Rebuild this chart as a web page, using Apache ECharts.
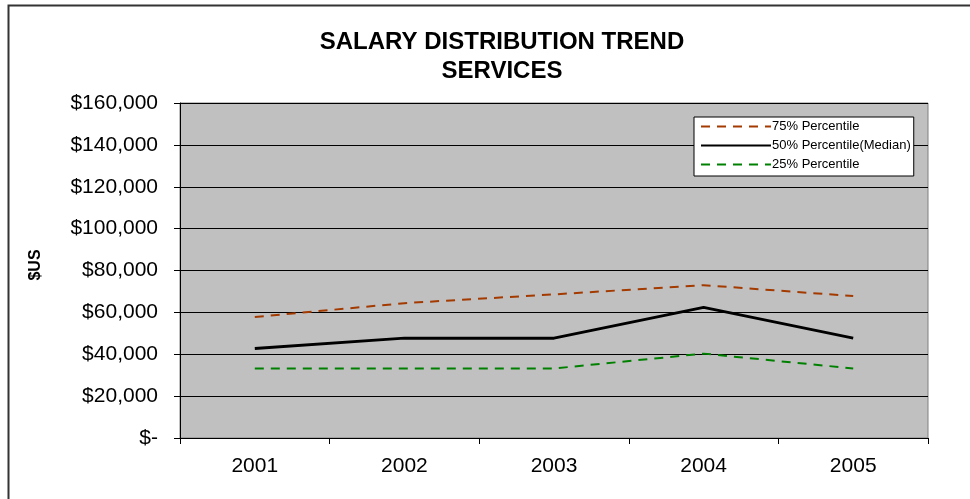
<!DOCTYPE html>
<html>
<head>
<meta charset="utf-8">
<script src="https://cdn.jsdelivr.net/npm/echarts@6/dist/echarts.min.js"></script>
<style>
  html, body { margin: 0; padding: 0; background: #ffffff; }
  #chart { width: 970px; height: 499px; }
</style>
</head>
<body>
<div id="chart"></div>
<script>
// Salary percentiles for the services sector, by year
const years = ['2001', '2002', '2003', '2004', '2005'];
const p75 = [57800, 64400, 68600, 73000, 67800];
const p50 = [42800, 47700, 47700, 62400, 47700];
const p25 = [33200, 33200, 33200, 40300, 33200];
const seriesNames = ['75% Percentile', '50% Percentile(Median)', '25% Percentile'];
const yTicks = { min: 0, max: 160000, step: 20000 };

const font = '"Liberation Sans", Arial, sans-serif';

function money(v) {
  if (v === 0) return '$-';
  return '$' + v.toString().replace(/\B(?=(\d{3})+(?!\d))/g, ',');
}

const chart = echarts.init(document.getElementById('chart'), null, { renderer: 'canvas' });

chart.setOption({
  animation: false,
  backgroundColor: '#ffffff',
  textStyle: { fontFamily: font },
  title: {
    text: 'SALARY DISTRIBUTION TREND\nSERVICES',
    left: 497,
    top: 23,
    textAlign: 'center',
    textStyle: {
      fontFamily: font,
      fontSize: 24,
      fontWeight: 'bold',
      color: '#000000',
      lineHeight: 29
    }
  },
  graphic: [
    {
      type: 'rect',
      silent: true,
      shape: { x: 8.5, y: 5.5, width: 975, height: 500 },
      style: { fill: 'none', stroke: '#333333', lineWidth: 2 },
      z: -1
    },
    {
      // vertical axis caption, reading bottom to top
      type: 'text',
      silent: true,
      x: 36,
      y: 265,
      rotation: Math.PI / 2,
      style: {
        text: '$US',
        font: 'bold 16px ' + font,
        fill: '#000000',
        align: 'center',
        verticalAlign: 'middle'
      }
    }
  ],
  legend: {
    orient: 'vertical',
    left: 694,
    top: 117,
    backgroundColor: '#ffffff',
    borderColor: '#000000',
    borderWidth: 1,
    padding: [3, 3, 5, 6],
    itemWidth: 70,
    itemHeight: 13,
    itemGap: 6,
    itemStyle: { opacity: 0 },
    textStyle: { fontFamily: font, fontSize: 13, color: '#000000', padding: [0, 0, 0, -4] },
    data: seriesNames
  },
  grid: {
    left: 180,
    right: 42,
    top: 103,
    bottom: 61,
    show: true,
    backgroundColor: '#c0c0c0',
    borderColor: '#808080',
    borderWidth: 1
  },
  xAxis: {
    type: 'category',
    data: years,
    boundaryGap: true,
    axisLine: { show: true, lineStyle: { color: '#000000', width: 1 } },
    axisTick: { show: true, length: 6, lineStyle: { color: '#000000' } },
    axisLabel: { fontFamily: font, fontSize: 21, color: '#000000', margin: 18 },
    splitLine: { show: false }
  },
  yAxis: {
    type: 'value',
    min: yTicks.min,
    max: yTicks.max,
    interval: yTicks.step,
    axisLine: { show: true, lineStyle: { color: '#000000', width: 1 } },
    axisTick: { show: true, length: 6, lineStyle: { color: '#000000' } },
    axisLabel: {
      fontFamily: font,
      fontSize: 21,
      color: '#000000',
      margin: 22,
      formatter: money
    },
    splitLine: { show: true, lineStyle: { color: '#000000', width: 1 } }
  },
  series: [
    {
      name: seriesNames[0],
      type: 'line',
      data: p75,
      symbol: 'none',
      color: '#a33a00',
      lineStyle: { color: '#a33a00', width: 2, type: [9, 7] }
    },
    {
      name: seriesNames[1],
      type: 'line',
      data: p50,
      symbol: 'none',
      color: '#000000',
      lineStyle: { color: '#000000', width: 3, type: 'solid' }
    },
    {
      name: seriesNames[2],
      type: 'line',
      data: p25,
      symbol: 'none',
      color: '#008000',
      lineStyle: { color: '#008000', width: 2, type: [9, 7] }
    }
  ]
});
</script>
</body>
</html>
